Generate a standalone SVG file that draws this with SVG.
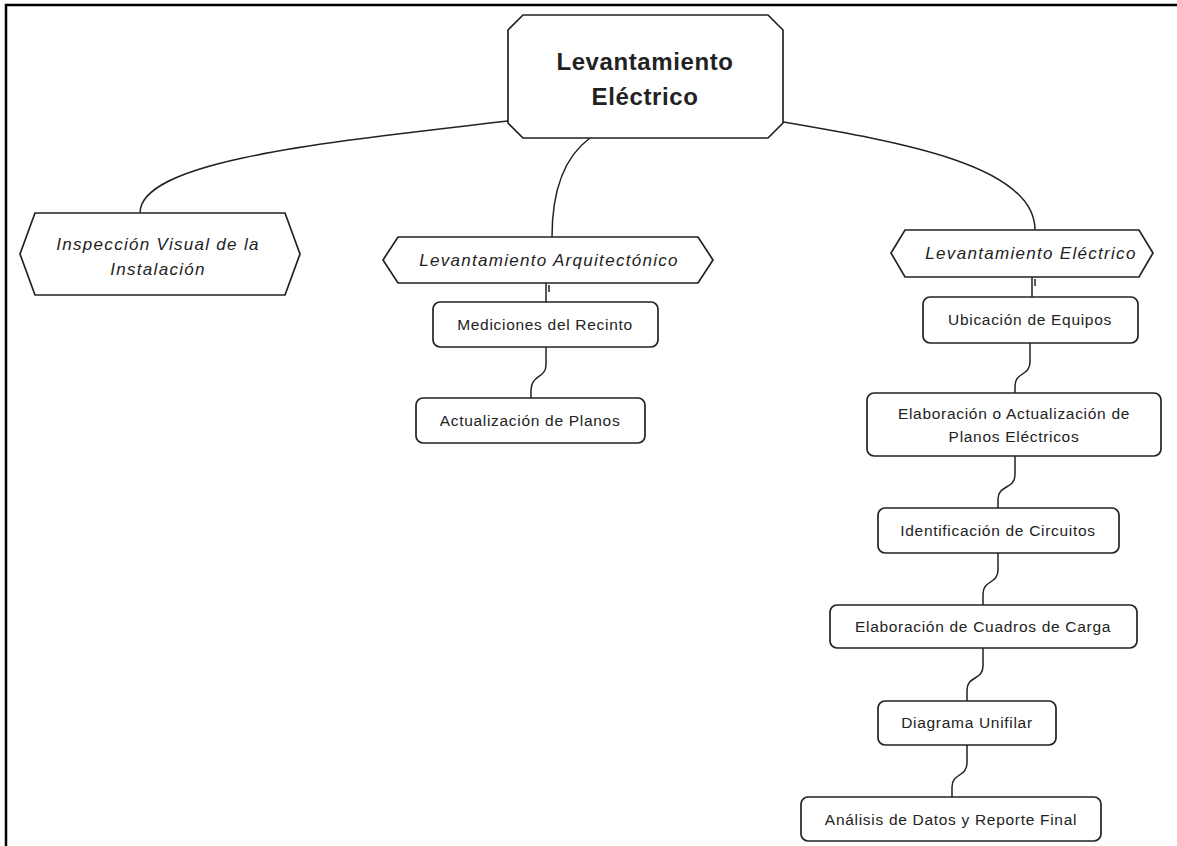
<svg xmlns="http://www.w3.org/2000/svg" width="1177" height="846" viewBox="0 0 1177 846">
<style>
.shape{fill:#fff;stroke:#222;stroke-width:1.7}
.conn{fill:none;stroke:#222;stroke-width:1.5}
.title{font-family:"Liberation Sans",Arial,sans-serif;font-weight:bold;font-size:24px;fill:#222;text-anchor:middle;letter-spacing:0.6px}
.hex{font-family:"Liberation Sans",Arial,sans-serif;font-style:italic;font-size:17px;fill:#222;text-anchor:middle;letter-spacing:1.3px}
.box{font-family:"Liberation Sans",Arial,sans-serif;font-size:15.5px;fill:#222;text-anchor:middle;letter-spacing:0.7px}
</style>
<rect width="1177" height="846" fill="#fff"/>
<path d="M6,846 V5 H1177" fill="none" stroke="#000" stroke-width="2.5"/>
<g id="connectors">
<path class="conn" d="M508,121 C330,142 140,160 140,213"/>
<path class="conn" d="M590,138 C560,160 552,200 552,237"/>
<path class="conn" d="M783,122 C900,142 1035,165 1035,230"/>
<path class="conn" d="M546,283 V302 M549,285 V292"/>
<path class="conn" d="M546,347 V365 C546,378 531,375 531,390 V398"/>
<path class="conn" d="M1032,277 V297 M1035,279 V286"/>
<path class="conn" d="M1030,343 V362 C1030,376 1015,372 1015,386 V393"/>
<path class="conn" d="M1015,456 V475 C1015,489 998,485 998,499 V508"/>
<path class="conn" d="M998,553 V570 C998,584 983,580 983,594 V605"/>
<path class="conn" d="M983,648 V666 C983,680 967,676 967,690 V701"/>
<path class="conn" d="M967,745 V763 C967,777 952,773 952,787 V797"/>
</g>
<g id="root">
<path class="shape" d="M523,15 H768 L783,30 V123 L768,138 H523 L508,123 V30 Z"/>
<text class="title" x="645" y="70">Levantamiento</text>
<text class="title" x="645" y="105">Eléctrico</text>
</g>
<g id="inspeccion">
<path class="shape" d="M35,213 H285 L300,254 L285,295 H35 L20,254 Z"/>
<text class="hex" x="158" y="250">Inspección Visual de la</text>
<text class="hex" x="158" y="275">Instalación</text>
</g>
<g id="arquitectonico">
<path class="shape" d="M398,237 H698 L713,260 L698,283 H398 L383,260 Z"/>
<text class="hex" x="549" y="266">Levantamiento Arquitectónico</text>
</g>
<g id="electrico">
<path class="shape" d="M905,230 H1139 L1153,253 L1139,277 H905 L891,253 Z"/>
<text class="hex" x="1031" y="259">Levantamiento Eléctrico</text>
</g>
<g id="mediciones">
<rect class="shape" x="433" y="302" width="225" height="45" rx="7"/>
<text class="box" x="545" y="330">Mediciones del Recinto</text>
</g>
<g id="actualizacion">
<rect class="shape" x="416" y="398" width="229" height="45" rx="7"/>
<text class="box" x="530" y="426">Actualización de Planos</text>
</g>
<g id="ubicacion">
<rect class="shape" x="923" y="297" width="215" height="46" rx="7"/>
<text class="box" x="1030" y="325">Ubicación de Equipos</text>
</g>
<g id="planos-electricos">
<rect class="shape" x="867" y="393" width="294" height="63" rx="7"/>
<text class="box" x="1014" y="419">Elaboración o Actualización de</text>
<text class="box" x="1014" y="442">Planos Eléctricos</text>
</g>
<g id="circuitos">
<rect class="shape" x="878" y="508" width="241" height="45" rx="7"/>
<text class="box" x="998" y="536">Identificación de Circuitos</text>
</g>
<g id="cuadros">
<rect class="shape" x="830" y="605" width="307" height="43" rx="7"/>
<text class="box" x="983" y="632">Elaboración de Cuadros de Carga</text>
</g>
<g id="unifilar">
<rect class="shape" x="878" y="701" width="178" height="44" rx="7"/>
<text class="box" x="967" y="728">Diagrama Unifilar</text>
</g>
<g id="analisis">
<rect class="shape" x="801" y="797" width="300" height="44" rx="7"/>
<text class="box" x="951" y="825">Análisis de Datos y Reporte Final</text>
</g>
</svg>
